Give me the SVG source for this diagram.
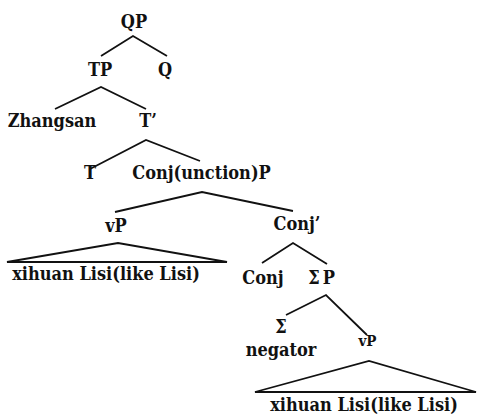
<svg xmlns="http://www.w3.org/2000/svg" width="477" height="415" viewBox="0 0 477 415">
  <style>
    .edge { fill: none; stroke: #111; stroke-width: 1.8; stroke-linejoin: miter; }
    .lbl { font-family: "DejaVu Serif Condensed", "DejaVu Serif", serif; font-weight: bold; font-size: 18px; fill: #111; text-anchor: middle; }
    .sm { font-size: 15px; }
  </style>
  <rect width="477" height="415" fill="#fff"/>

  <!-- branches of the tree -->
  <g id="connectors">
    <path class="edge" d="M101,56 L133,36 L167,56"/>
    <path class="edge" d="M55,109 L101,87 L146,109"/>
    <path class="edge" d="M90,169 L146,140 L200,161"/>
    <path class="edge" d="M115,212 L202,192 L293,211"/>
    <path class="edge" d="M262,263 L293,243 L327,264"/>
    <path class="edge" d="M286,315 L326,295 L367,335"/>
    <path class="edge" d="M7,262 L118,243 L227,262 Z"/>
    <path class="edge" d="M255,392 L369,361 L476,392 Z"/>
  </g>

  <!-- node labels -->
  <g id="qp"><text class="lbl" x="134" y="28">QP</text></g>
  <g id="tp"><text class="lbl" x="100" y="76">TP</text></g>
  <g id="q"><text class="lbl" x="165" y="76">Q</text></g>
  <g id="zhangsan"><text class="lbl" x="52" y="127">Zhangsan</text></g>
  <g id="t-bar"><text class="lbl" x="148" y="127">T’</text></g>
  <g id="t"><text class="lbl" x="90" y="179">T</text></g>
  <g id="conjp"><text class="lbl" x="201.5" y="179">Conj(unction)P</text></g>
  <g id="vp1"><text class="lbl" x="116" y="232">vP</text></g>
  <g id="vp1-content"><text class="lbl" x="106" y="280">xihuan Lisi(like Lisi)</text></g>
  <g id="conj-bar"><text class="lbl" x="297" y="230">Conj’</text></g>
  <g id="conj"><text class="lbl" x="263" y="284">Conj</text></g>
  <g id="sigmap"><text class="lbl" x="321.5" y="284">Σ<tspan dx="3">P</tspan></text></g>
  <g id="sigma"><text class="lbl" x="281" y="333">Σ</text></g>
  <g id="negator"><text class="lbl" x="281" y="356">negator</text></g>
  <g id="vp2"><text class="lbl sm" x="367.5" y="346">vP</text></g>
  <g id="vp2-content"><text class="lbl" x="364" y="411">xihuan Lisi(like Lisi)</text></g>
</svg>
